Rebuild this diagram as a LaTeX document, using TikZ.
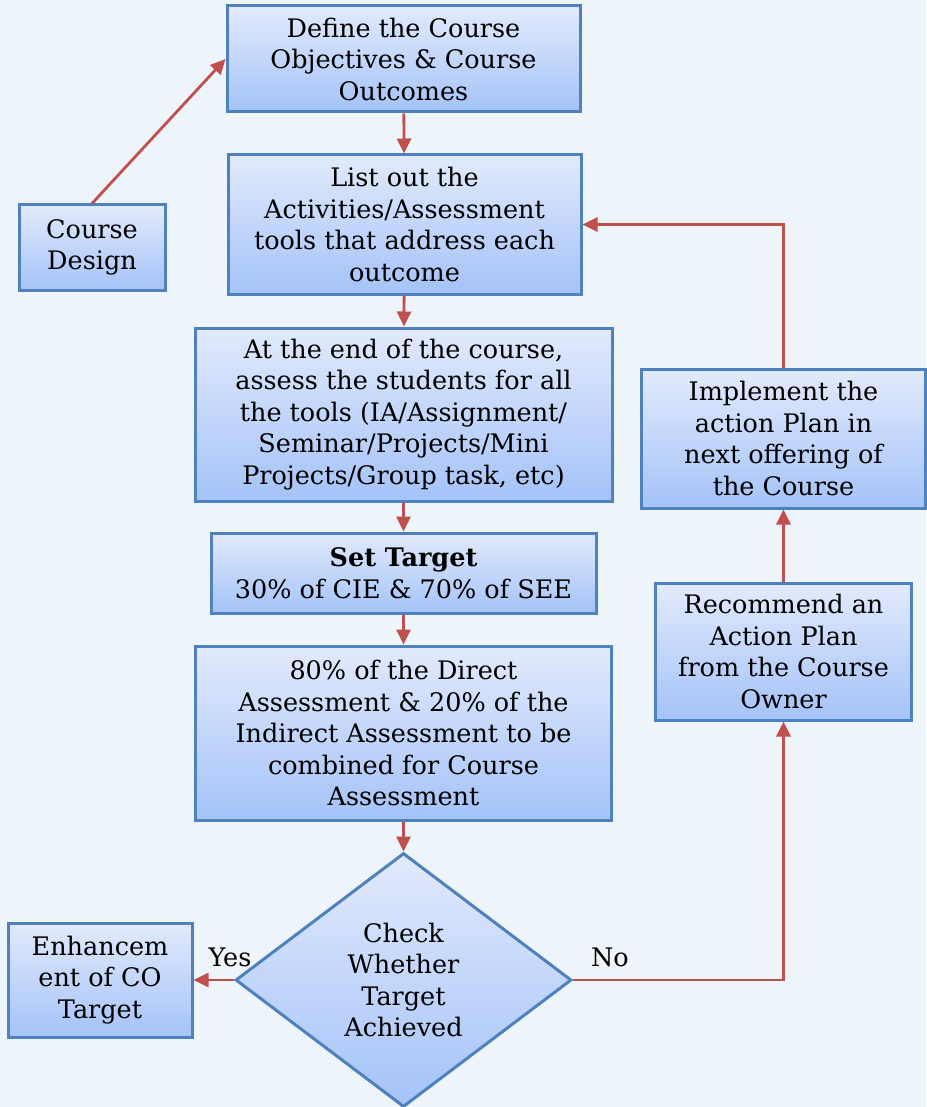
\documentclass[tikz,border=0pt]{standalone}
\usepackage{fontspec}
\setmainfont{DejaVu Serif}
\usetikzlibrary{shapes.geometric,arrows.meta}
\definecolor{bgcol}{HTML}{EDF5FA}
\definecolor{boxline}{HTML}{4F81BD}
\definecolor{boxtop}{HTML}{E2EAFC}
\definecolor{boxbot}{HTML}{A4C3F8}
\definecolor{arrowred}{HTML}{C0504D}
\tikzset{
  stepbox/.style={draw=boxline, line width=3pt, top color=boxtop, bottom color=boxbot,
    align=center, inner sep=0pt, font=\fontsize{25.5}{31.5}\selectfont},
  decision/.style={stepbox, diamond},
  flow/.style={draw=arrowred, line width=2.8pt, -{Triangle[length=15pt,width=14pt]}},
  lbl/.style={font=\fontsize{25.5}{31.5}\selectfont, inner sep=0pt}
}
\begin{document}
\begin{tikzpicture}[x=1pt,y=-1pt]
  \fill[bgcol] (0,0) rectangle (926,1107);
  \useasboundingbox (0,0) rectangle (926,1107);

  \node[stepbox, minimum width=353pt, minimum height=106pt] (define) at (403.5,59)
    {Define the Course\\Objectives \& Course\\Outcomes};
  \node[stepbox, minimum width=353pt, minimum height=139pt] (list) at (404.5,224.5)
    {List out the\\Activities/Assessment\\tools that address each\\outcome};
  \node[stepbox, minimum width=146pt, minimum height=85pt] (design) at (92,247.5)
    {Course\\Design};
  \node[stepbox, minimum width=417pt, minimum height=173pt] (assess) at (403.5,414.5)
    {At the end of the course,\\assess the students for all\\the tools (IA/Assignment/\\Seminar/Projects/Mini\\Projects/Group task, etc)};
  \node[stepbox, minimum width=385pt, minimum height=80pt] (target) at (403.5,573)
    {\textbf{Set Target}\\30\% of CIE \& 70\% of SEE};
  \node[stepbox, minimum width=416pt, minimum height=174pt] (combine) at (403.5,733)
    {80\% of the Direct\\Assessment \& 20\% of the\\Indirect Assessment to be\\combined for Course\\Assessment};
  \node[decision, minimum width=336pt, minimum height=254pt] (check) at (403.5,980)
    {Check\\Whether\\Target\\Achieved};
  \node[stepbox, minimum width=184pt, minimum height=114pt] (enhance) at (100,980)
    {Enhancem\\ent of CO\\Target};
  \node[stepbox, minimum width=256pt, minimum height=137pt] (recommend) at (783.5,651.5)
    {Recommend an\\Action Plan\\from the Course\\Owner};
  \node[stepbox, minimum width=284pt, minimum height=139pt] (implement) at (783.5,438.5)
    {Implement the\\action Plan in\\next offering of\\the Course};

  \draw[flow] (design.north) -- (define.west);
  \draw[flow] (define) -- (list);
  \draw[flow] (list) -- (assess);
  \draw[flow] (assess) -- (target);
  \draw[flow] (target) -- (combine);
  \draw[flow] (combine) -- (check);
  \draw[flow] (check.west) -- (enhance.east);
  \draw[flow] (check.east) -| (recommend.south);
  \draw[flow] (recommend) -- (implement);
  \draw[flow] (implement.north) |- (list.east);

  \node[lbl] (yes) at (230,957) {Yes};
  \node[lbl] (no) at (610,957) {No};
\end{tikzpicture}
\end{document}
